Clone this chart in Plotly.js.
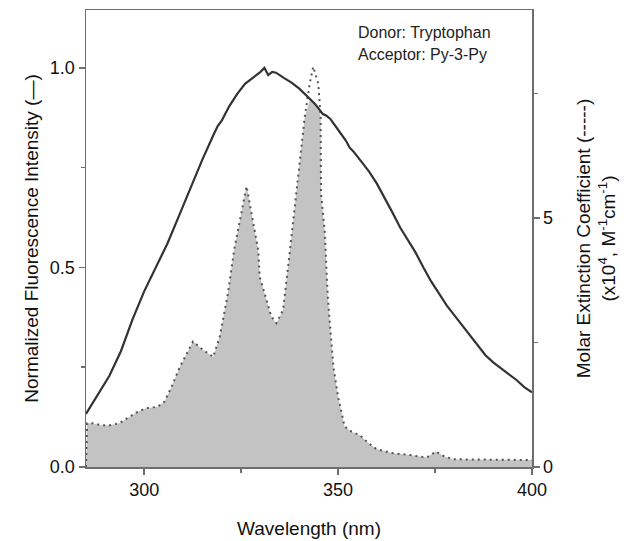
<!DOCTYPE html>
<html>
<head>
<meta charset="utf-8">
<script src="https://cdn.plot.ly/plotly-3.0.1.min.js"></script>
<style>html,body{margin:0;padding:0;background:#fff;}#chart{width:627px;height:541px;}</style>
</head>
<body>
<div id="chart"></div>
<script>
// Fluorescence of donor (Tryptophan), normalized – left axis
const fluorWl = [285,288,291,294,297,300,303,306,309,312,315,318,319,320,321,322,324,326,328,330,331,332,333,334,336,338,340,342,344,345,346,347,348,350,352,353,354,356,358,360,362,364,366,368,370,372,374,376,378,380,382,384,386,388,390,392,394,396,398,400];
const fluorVal = [0.133,0.18,0.228,0.29,0.37,0.44,0.50,0.56,0.63,0.70,0.77,0.835,0.855,0.868,0.888,0.905,0.935,0.96,0.975,0.99,1.0,0.982,0.99,0.988,0.975,0.963,0.948,0.93,0.91,0.898,0.885,0.88,0.872,0.845,0.818,0.80,0.79,0.765,0.74,0.71,0.675,0.638,0.60,0.57,0.537,0.50,0.465,0.435,0.405,0.38,0.355,0.328,0.302,0.28,0.262,0.248,0.232,0.218,0.20,0.187];

// Absorption of acceptor (Py-3-Py), molar extinction coefficient x10^4 – right axis
const absWl = [285,285.3,286.7,288.8,291.2,293.6,297.9,300.4,303.5,305.2,306.9,308.6,309.2,312.6,315.2,317.8,319.5,321.6,323.2,326.4,329.4,329.8,332.8,334.1,335.8,337.6,339.3,341.4,342.7,343.6,344.9,345.5,345.6,346.6,347.0,347.4,348.8,350.0,351.7,353.5,355.6,357.8,359.9,363.8,368.5,372.8,375.2,377.5,379.6,385,390,395,400];
const absLine = [0,0.88,0.88,0.84,0.84,0.88,1.09,1.18,1.21,1.31,1.58,1.91,2.01,2.52,2.35,2.21,2.62,3.49,4.36,5.64,4.36,3.82,3.02,2.89,3.15,4.36,5.50,7.03,7.71,8.04,7.70,7.03,5.50,4.69,3.96,3.35,2.01,1.41,0.81,0.71,0.64,0.48,0.36,0.28,0.24,0.19,0.31,0.21,0.155,0.15,0.145,0.14,0.14];
const absFill = [0,0.88,0.88,0.84,0.84,0.88,1.09,1.18,1.21,1.31,1.58,1.91,2.01,2.52,2.35,2.21,2.62,3.49,4.36,5.64,4.36,3.82,3.02,2.89,3.15,4.36,5.50,7.03,7.37,7.35,7.24,7.03,5.50,4.69,3.96,3.35,2.01,1.41,0.81,0.71,0.64,0.48,0.36,0.28,0.24,0.19,0.31,0.21,0.155,0.15,0.145,0.14,0.14];

const xTicks = [300,350,400];
const leftTicks = [0,0.5,1.0];
const leftTickText = ['0.0','0.5','1.0'];
const rightTicks = [0,5];
const rightTickText = ['0','5'];

const axisColor = '#6e6e6e';
const font = {family: 'Liberation Sans, Arial, sans-serif', size: 18, color: '#111'};

const traces = [
  {x: absWl, y: absFill, type: 'scatter', mode: 'lines', fill: 'tozeroy',
   fillcolor: '#c3c3c3', line: {width: 0, color: 'rgba(0,0,0,0)'}, yaxis: 'y', hoverinfo: 'skip'},
  {x: absWl, y: absLine, type: 'scatter', mode: 'lines',
   line: {width: 2, color: '#555', dash: '2px,4px'}, yaxis: 'y'},
  {x: fluorWl, y: fluorVal, type: 'scatter', mode: 'lines',
   line: {width: 2.2, color: '#333'}, yaxis: 'y2'}
];

const layout = {
  width: 627, height: 541,
  margin: {l: 86, r: 95, t: 10, b: 74},
  paper_bgcolor: '#fff', plot_bgcolor: '#fff',
  showlegend: false,
  font: font,
  xaxis: {
    range: [285, 400], tickvals: xTicks, ticktext: xTicks.map(String),
    ticks: 'outside', ticklen: 6, tickcolor: axisColor, tickwidth: 1.5,
    minor: {tickvals: [325, 375], ticks: 'outside', ticklen: 4, tickcolor: axisColor},
    showline: true, linecolor: axisColor, linewidth: 1.5, mirror: true,
    showgrid: false, zeroline: false,
    title: {text: 'Wavelength (nm)', font: {size: 19}, standoff: 22}
  },
  yaxis: {
    side: 'right', range: [0, 9.18], tickvals: rightTicks, ticktext: rightTickText,
    ticks: 'outside', ticklen: 6, tickcolor: axisColor, tickwidth: 1.5,
    minor: {tickvals: [2.5, 7.5], ticks: 'outside', ticklen: 4, tickcolor: axisColor},
    showline: true, linecolor: axisColor, linewidth: 1.5,
    showgrid: false, zeroline: false,
    title: {text: 'Molar Extinction Coefficient (-----)<br>(x10<sup>4</sup>, M<sup>-1</sup>cm<sup>-1</sup>)', font: {size: 19}}
  },
  yaxis2: {
    overlaying: 'y', side: 'left', range: [0, 1.145], tickvals: leftTicks, ticktext: leftTickText,
    ticks: 'outside', ticklen: 6, tickcolor: axisColor, tickwidth: 1.5,
    minor: {tickvals: [0.25, 0.75], ticks: 'outside', ticklen: 4, tickcolor: axisColor},
    showline: true, linecolor: axisColor, linewidth: 1.5,
    showgrid: false, zeroline: false,
    title: {text: 'Normalized Fluorescence Intensity (\u2014)', font: {size: 19}}
  },
  annotations: [
    {xref: 'paper', yref: 'paper', x: 0.606, y: 0.95, xanchor: 'left', yanchor: 'middle',
     text: 'Donor: Tryptophan', showarrow: false, font: {size: 16, color: '#222'}},
    {xref: 'paper', yref: 'paper', x: 0.606, y: 0.902, xanchor: 'left', yanchor: 'middle',
     text: 'Acceptor: Py-3-Py', showarrow: false, font: {size: 16, color: '#222'}}
  ]
};

Plotly.newPlot('chart', traces, layout, {staticPlot: true, displayModeBar: false});
</script>
</body>
</html>
